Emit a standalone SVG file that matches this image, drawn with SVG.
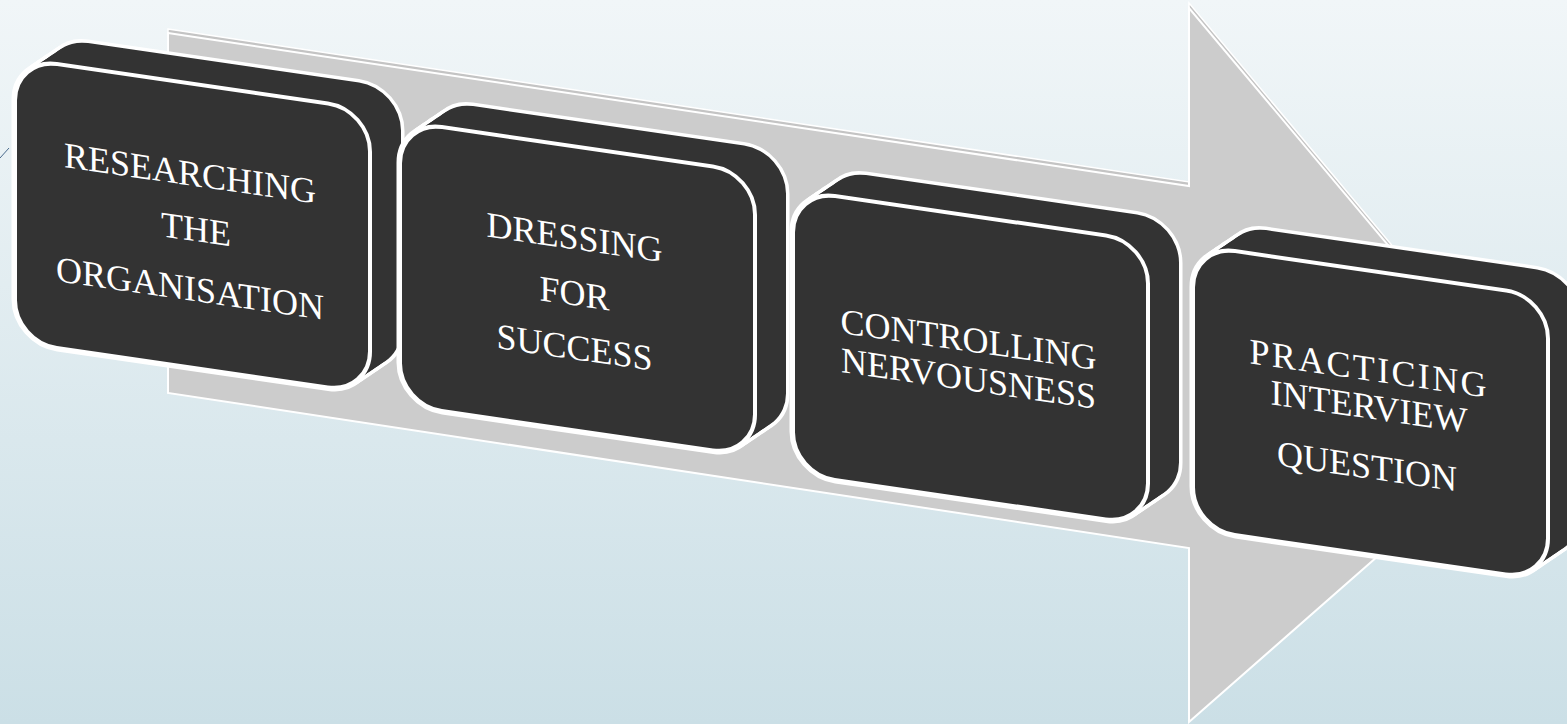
<svg xmlns="http://www.w3.org/2000/svg" xmlns:xlink="http://www.w3.org/1999/xlink" width="1567" height="724" viewBox="0 0 1567 724">
<defs>
<linearGradient id="bg" x1="0" y1="0" x2="0" y2="1">
<stop offset="0" stop-color="#f1f6f8"/>
<stop offset="1" stop-color="#cbdfe6"/>
</linearGradient>
<rect id="face" width="355" height="284" rx="42" ry="42"/>
<g id="sweep">
<use href="#face" xlink:href="#face"/>
<use href="#face" xlink:href="#face" x="3.875" y="-3.1875"/>
<use href="#face" xlink:href="#face" x="7.75" y="-6.375"/>
<use href="#face" xlink:href="#face" x="11.625" y="-9.5625"/>
<use href="#face" xlink:href="#face" x="15.5" y="-12.75"/>
<use href="#face" xlink:href="#face" x="19.375" y="-15.9375"/>
<use href="#face" xlink:href="#face" x="23.25" y="-19.125"/>
<use href="#face" xlink:href="#face" x="27.125" y="-22.3125"/>
<use href="#face" xlink:href="#face" x="31" y="-25.5"/>
</g>
<style>
.ext-o{fill:#fff;stroke:#fff;stroke-width:7;stroke-linejoin:round}
.ext-f{fill:#333;stroke:none}
.front{fill:#333;stroke:#fff;stroke-width:4}
.lbl{font-family:"Liberation Serif","Times New Roman",serif;font-size:36px;fill:#fff;text-anchor:middle}
.arr-back{fill:#c4c4c4;stroke:#fff;stroke-width:1.5;stroke-linejoin:miter}
.arr-front{fill:#cccccc;stroke:#fff;stroke-width:2;stroke-linejoin:miter}
</style>
</defs>
<rect width="1567" height="724" fill="url(#bg)"/>
<line x1="0" y1="158" x2="9" y2="148" stroke="#4a6a8c" stroke-width="1"/>
<g id="process-arrow">
<polygon class="arr-back" points="168,29 1189,182 1189,3 1534,415 1189,718 1189,544 168,389"/>
<polygon class="arr-front" points="168,33 1189,186 1189,8 1534,419 1189,722 1189,548 168,393"/>
</g>
<g id="box1" transform="matrix(1,0.145,0,1,15,58)">
<use href="#sweep" xlink:href="#sweep" class="ext-o"/>
<use href="#sweep" xlink:href="#sweep" class="ext-f"/>
<use href="#face" xlink:href="#face" class="front"/>
<text class="lbl" x="175" y="102">RESEARCHING</text>
<text class="lbl" x="181" y="157">THE</text>
<text class="lbl" x="175" y="217">ORGANISATION</text>
</g>
<g id="box2" transform="matrix(1,0.145,0,1,400,121)">
<use href="#sweep" xlink:href="#sweep" class="ext-o"/>
<use href="#sweep" xlink:href="#sweep" class="ext-f"/>
<use href="#face" xlink:href="#face" class="front"/>
<text class="lbl" x="174.5" y="103">DRESSING</text>
<text class="lbl" x="174.5" y="159">FOR</text>
<text class="lbl" x="174.5" y="213">SUCCESS</text>
</g>
<g id="box3" transform="matrix(1,0.145,0,1,793,190)">
<use href="#sweep" xlink:href="#sweep" class="ext-o"/>
<use href="#sweep" xlink:href="#sweep" class="ext-f"/>
<use href="#face" xlink:href="#face" class="front"/>
<text class="lbl" x="175.5" y="136">CONTROLLING</text>
<text class="lbl" x="175.5" y="175">NERVOUSNESS</text>
</g>
<g id="box4" transform="matrix(1,0.145,0,1,1193,245)">
<use href="#sweep" xlink:href="#sweep" class="ext-o"/>
<use href="#sweep" xlink:href="#sweep" class="ext-f"/>
<use href="#face" xlink:href="#face" class="front"/>
<text class="lbl" x="175" y="110" textLength="237" lengthAdjust="spacing">PRACTICING</text>
<text class="lbl" x="176" y="148">INTERVIEW</text>
<text class="lbl" x="174" y="208">QUESTION</text>
</g>
</svg>
